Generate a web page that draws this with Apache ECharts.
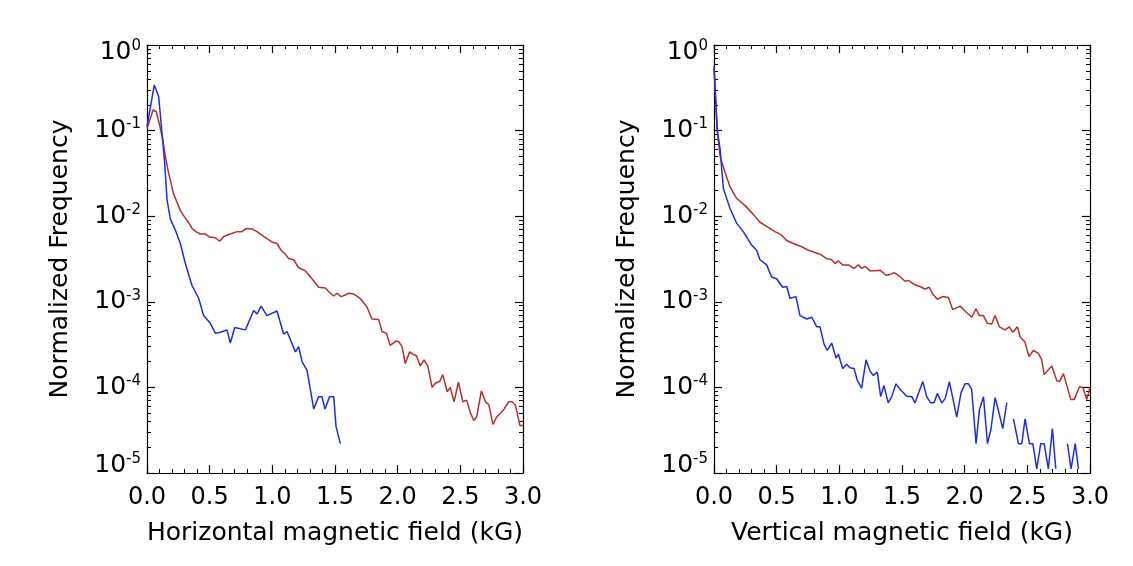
<!DOCTYPE html>
<html>
<head>
<meta charset="utf-8">
<script src="https://cdn.jsdelivr.net/npm/echarts@6/dist/echarts.min.js"></script>
<style>
html,body{margin:0;padding:0;background:#fff;}
#c{width:1133px;height:566px;}
</style>
</head>
<body>
<div id="c"></div>
<script>
// ---- data ----
const xTickValues = [0, 0.5, 1.0, 1.5, 2.0, 2.5, 3.0];
const yTickValues = [1e-5, 1e-4, 1e-3, 1e-2, 1e-1, 1];
const yMinorValues = [
  2e-5,3e-5,4e-5,5e-5,6e-5,7e-5,8e-5,9e-5,
  2e-4,3e-4,4e-4,5e-4,6e-4,7e-4,8e-4,9e-4,
  2e-3,3e-3,4e-3,5e-3,6e-3,7e-3,8e-3,9e-3,
  2e-2,3e-2,4e-2,5e-2,6e-2,7e-2,8e-2,9e-2,
  0.2,0.3,0.4,0.5,0.6,0.7,0.8,0.9
];

// Horizontal field, red
const hRedX = [0.000,0.027,0.048,0.074,0.100,0.120,0.146,0.170,0.190,0.210,0.240,0.266,0.306,0.330,0.359,0.390,0.426,0.465,0.500,0.545,0.580,0.612,0.665,0.718,0.758,0.793,0.838,0.878,0.930,0.997,1.037,1.070,1.104,1.130,1.170,1.210,1.263,1.316,1.370,1.423,1.463,1.490,1.516,1.548,1.582,1.610,1.650,1.700,1.755,1.795,1.848,1.875,1.910,1.940,1.990,2.010,2.035,2.060,2.096,2.120,2.150,2.180,2.210,2.240,2.275,2.300,2.335,2.360,2.395,2.420,2.450,2.485,2.520,2.550,2.580,2.607,2.630,2.668,2.700,2.727,2.760,2.790,2.820,2.850,2.886,2.913,2.940,2.975,3.000];
const hRedY = [0.106,0.139,0.174,0.166,0.117,0.087,0.051,0.033,0.025,0.0186,0.0145,0.0117,0.0095,0.0085,0.0072,0.0066,0.0062,0.0062,0.0057,0.0056,0.0051,0.0058,0.0062,0.0066,0.0066,0.0072,0.0071,0.0066,0.0058,0.0050,0.0048,0.0040,0.0036,0.0032,0.0031,0.0025,0.0023,0.00186,0.00148,0.00145,0.00126,0.00117,0.00126,0.00115,0.00120,0.00126,0.00123,0.00110,0.00087,0.00063,0.00062,0.00045,0.00043,0.00031,0.00035,0.00034,0.00030,0.00019,0.00026,0.000245,0.000234,0.000178,0.000209,0.000178,0.000100,0.000112,0.000117,0.000141,0.000089,0.000100,0.000068,0.000115,0.000068,0.000071,0.000051,0.000041,0.000045,0.000091,0.000068,0.000063,0.000037,0.000045,0.000050,0.000056,0.000068,0.000068,0.000062,0.000036,0.000036];

// Horizontal field, blue
const hBlueX = [0.000,0.058,0.093,0.140,0.160,0.186,0.226,0.266,0.306,0.359,0.412,0.452,0.505,0.545,0.585,0.638,0.665,0.700,0.785,0.851,0.878,0.910,0.957,1.037,1.090,1.117,1.184,1.210,1.237,1.277,1.330,1.370,1.396,1.420,1.457,1.490,1.508,1.543];
const hBlueY = [0.111,0.34,0.25,0.044,0.0155,0.0093,0.0069,0.0048,0.0028,0.00155,0.0011,0.00069,0.00056,0.00043,0.00044,0.00047,0.00033,0.0005,0.00047,0.00079,0.00072,0.00089,0.00069,0.00078,0.00042,0.00045,0.00026,0.0003,0.0002,0.000158,0.000056,0.000078,0.000078,0.000056,0.000078,0.000078,0.000035,0.000022];

// Vertical field, red
const vRedX = [0.000,0.026,0.050,0.090,0.128,0.180,0.250,0.314,0.367,0.420,0.487,0.540,0.580,0.633,0.700,0.753,0.846,0.899,0.939,0.966,0.992,1.027,1.072,1.117,1.152,1.179,1.205,1.245,1.285,1.325,1.373,1.405,1.437,1.479,1.524,1.551,1.604,1.644,1.684,1.718,1.745,1.782,1.825,1.870,1.905,1.963,2.011,2.057,2.090,2.117,2.150,2.181,2.216,2.243,2.277,2.322,2.357,2.384,2.421,2.442,2.480,2.513,2.548,2.588,2.615,2.634,2.695,2.735,2.756,2.788,2.847,2.873,2.916,2.943,2.974,3.000];
const vRedY = [0.56,0.100,0.049,0.032,0.022,0.0162,0.0132,0.0105,0.0085,0.0076,0.0066,0.0060,0.0052,0.0048,0.0044,0.0040,0.0036,0.0032,0.0031,0.0028,0.0030,0.0027,0.0027,0.00245,0.0027,0.00245,0.0026,0.0023,0.0023,0.00234,0.00204,0.00209,0.00219,0.0020,0.00174,0.00178,0.00158,0.00151,0.00141,0.00148,0.00123,0.00107,0.00115,0.00112,0.00081,0.00089,0.00076,0.00066,0.00083,0.00069,0.00069,0.00056,0.00055,0.00069,0.00051,0.00047,0.00051,0.00044,0.00051,0.00039,0.00034,0.00023,0.00027,0.00025,0.00021,0.000141,0.000178,0.00012,0.000117,0.000145,0.000072,0.000072,0.000102,0.0001,0.000072,0.0001];

// Vertical field, blue (null = empty bin)
const vBlueX = [0.000,0.026,0.050,0.064,0.075,0.128,0.180,0.234,0.300,0.340,0.367,0.420,0.460,0.500,0.513,0.548,0.580,0.606,0.654,0.686,0.740,0.780,0.820,0.846,0.878,0.904,0.939,0.974,0.992,1.027,1.059,1.085,1.117,1.144,1.178,1.213,1.245,1.271,1.303,1.330,1.356,1.390,1.418,1.452,1.484,1.538,1.578,1.604,1.666,1.697,1.729,1.756,1.782,1.817,1.844,1.878,1.937,1.971,2.003,2.030,2.056,2.091,2.118,2.150,2.182,2.209,2.243,2.269,2.304,2.336,2.362,2.389,2.429,2.456,2.482,2.517,2.544,2.575,2.607,2.634,2.668,2.700,2.727,2.760,2.790,2.820,2.849,2.882,2.908];
const vBlueY = [0.56,0.100,0.059,0.032,0.021,0.0123,0.0083,0.0066,0.0046,0.0040,0.0031,0.0027,0.00195,0.00186,0.00195,0.00148,0.00151,0.0011,0.00115,0.00069,0.00063,0.00066,0.00051,0.00051,0.00032,0.00027,0.00033,0.00022,0.000245,0.000166,0.000186,0.00017,0.000166,0.00012,0.000098,0.00021,0.000155,0.000138,0.000151,0.000078,0.000105,0.000066,0.000078,0.00011,0.000095,0.000079,0.000078,0.000066,0.000117,0.000078,0.000066,0.000066,0.000085,0.000066,0.000074,0.000117,0.000045,0.000087,0.00011,0.00011,0.000095,0.000022,0.000055,0.000078,0.000022,0.000032,0.000076,0.000054,0.000033,0.000066,null,0.000043,0.000022,0.000022,0.000043,0.000022,0.000022,0.0000112,0.000022,0.000022,0.0000112,0.000033,0.0000112,null,null,0.000022,0.0000112,0.000022,0.0000112];

const xNames = ['Horizontal magnetic field (kG)', 'Vertical magnetic field (kG)'];
const yName = 'Normalized Frequency';

// ---- chart ----
const FONT = 'DejaVu Sans';
const RED = '#b3302d';
const BLUE = '#1c2ee0';
const BLACK = '#000';

function pairs(xs, ys) {
  return xs.map((x, i) => [x, ys[i] == null ? '-' : ys[i]]);
}

function fmtY(v) {
  const e = Math.round(Math.log10(v));
  const s = String(e);
  if (e === -5) return '{bLo|10}{sLo|' + s + '}';
  if (e === 0) return '{bHi|10}{sHi|' + s + '}';
  return '{b|10}{s|' + s + '}';
}

const richY = {
  b:   { fontSize: 25, fontFamily: FONT, color: BLACK },
  s:   { fontSize: 15, fontFamily: FONT, color: BLACK, padding: [0, 0, 12, 0] },
  bLo: { fontSize: 25, fontFamily: FONT, color: BLACK, padding: [0, 0, 16, 0] },
  sLo: { fontSize: 15, fontFamily: FONT, color: BLACK, padding: [0, 0, 28, 0] },
  bHi: { fontSize: 25, fontFamily: FONT, color: BLACK, padding: [14, 0, 0, 0] },
  sHi: { fontSize: 15, fontFamily: FONT, color: BLACK, padding: [14, 0, 12, 0] }
};

const gridRects = [
  { left: 147, top: 45, width: 376, height: 428 },
  { left: 714, top: 45, width: 376, height: 428 }
];

const grid = [];
const xAxis = [];
const yAxis = [];
const lineSt = { color: BLACK, width: 1.2 };

gridRects.forEach((r, p) => {
  grid.push(Object.assign({}, r));   // main grid
  grid.push(Object.assign({}, r));   // overlay grid for log minor ticks
  const gMain = 2 * p, gMinor = 2 * p + 1;

  xAxis.push({
    gridIndex: gMain, type: 'value', position: 'bottom',
    min: xTickValues[0], max: xTickValues[xTickValues.length - 1], interval: 0.5,
    axisLine: { onZero: false, lineStyle: lineSt },
    axisTick: { inside: true, length: 8, lineStyle: lineSt },
    minorTick: { show: true, splitNumber: 5, length: 4, lineStyle: { color: BLACK, width: 1 } },
    splitLine: { show: false },
    axisLabel: { formatter: v => v.toFixed(1), fontSize: 24, fontFamily: FONT, color: BLACK, margin: 13 },
    name: xNames[p], nameLocation: 'middle', nameGap: 48,
    nameTextStyle: { fontSize: 25, fontFamily: FONT, color: BLACK }
  });
  xAxis.push({
    gridIndex: gMain, type: 'value', position: 'top',
    min: 0, max: 3, interval: 0.5,
    axisLine: { onZero: false, lineStyle: lineSt },
    axisTick: { inside: true, length: 8, lineStyle: lineSt },
    minorTick: { show: true, splitNumber: 5, length: 4, lineStyle: { color: BLACK, width: 1 } },
    splitLine: { show: false },
    axisLabel: { show: false }
  });
  xAxis.push({ gridIndex: gMinor, type: 'value', min: 0, max: 3, show: false });

  yAxis.push({
    gridIndex: gMain, type: 'log', logBase: 10, position: 'left',
    min: 1e-5, max: 1,
    axisLine: { onZero: false, lineStyle: lineSt },
    axisTick: { inside: true, length: 8, lineStyle: lineSt, customValues: yTickValues },
    splitLine: { show: false },
    axisLabel: { customValues: yTickValues, formatter: fmtY, rich: richY, margin: 6 },
    name: yName, nameLocation: 'middle', nameRotate: 90, nameGap: 74,
    nameTextStyle: { fontSize: 25, fontFamily: FONT, color: BLACK }
  });
  yAxis.push({
    gridIndex: gMain, type: 'log', logBase: 10, position: 'right',
    min: 1e-5, max: 1,
    axisLine: { onZero: false, lineStyle: lineSt },
    axisTick: { inside: true, length: 8, lineStyle: lineSt, customValues: yTickValues },
    splitLine: { show: false },
    axisLabel: { show: false }
  });
  ['left', 'right'].forEach(pos => {
    yAxis.push({
      gridIndex: gMinor, type: 'log', logBase: 10, position: pos,
      min: 1e-5, max: 1,
      axisLine: { show: false, onZero: false },
      axisTick: { show: true, inside: true, length: 4, lineStyle: { color: BLACK, width: 1 }, customValues: yMinorValues },
      splitLine: { show: false },
      axisLabel: { show: false }
    });
  });
});

function lineSeries(xs, ys, color, xi, yi) {
  return {
    type: 'line', xAxisIndex: xi, yAxisIndex: yi,
    data: pairs(xs, ys), showSymbol: false, symbol: 'none',
    connectNulls: false, animation: false,
    lineStyle: { color: color, width: 1.5 }, itemStyle: { color: color }
  };
}

const chart = echarts.init(document.getElementById('c'), null, { renderer: 'canvas' });
chart.setOption({
  backgroundColor: '#fff',
  animation: false,
  grid: grid,
  xAxis: xAxis,
  yAxis: yAxis,
  series: [
    lineSeries(hRedX, hRedY, RED, 0, 0),
    lineSeries(hBlueX, hBlueY, BLUE, 0, 0),
    lineSeries(vRedX, vRedY, RED, 3, 4),
    lineSeries(vBlueX, vBlueY, BLUE, 3, 4)
  ]
});
</script>
</body>
</html>
